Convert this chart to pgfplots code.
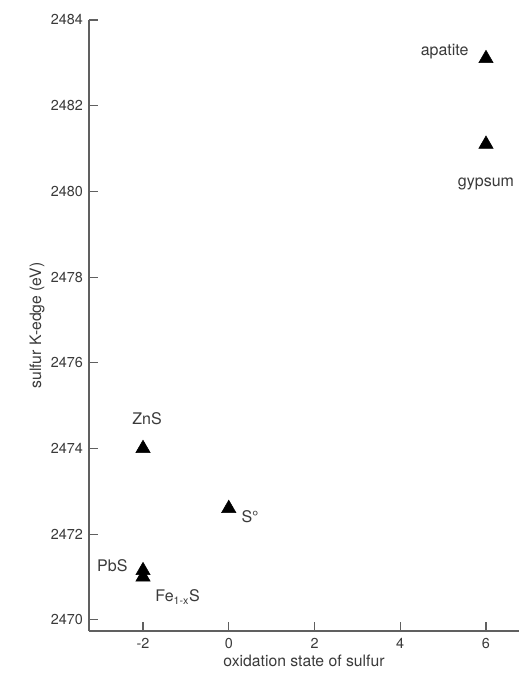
\documentclass[border=0pt]{standalone}
\usepackage{pgfplots}
\pgfplotsset{compat=1.18}
\usepackage{fontspec}
\setmainfont{TeX Gyre Heros}
\definecolor{txt}{HTML}{3A3A3A}
\definecolor{axc}{HTML}{606060}
\begin{document}
\begin{tikzpicture}
\useasboundingbox (-66.75pt,-34.5pt) rectangle (322.5pt,473.25pt);
\begin{axis}[
  scale only axis,
  width=322.5pt, height=458.25pt,
  xmin=-3.26, xmax=6.77,
  ymin=2469.74, ymax=2484,
  axis lines=left,
  axis line style={axc, line width=0.9pt, -},
  xtick={-2,0,2,4,6},
  ytick={2470,2472,2474,2476,2478,2480,2482,2484},
  tick style={axc, line width=0.8pt},
  tick align=inside,
  major tick length=7pt,
  /pgf/number format/assume math mode=true,
  /pgf/number format/1000 sep={},
  ticklabel style={font=\fontsize{10.8}{12}\selectfont, text=txt},
  xticklabel style={yshift=-2pt},
  yticklabel style={xshift=-1pt},
  xlabel={oxidation state of sulfur},
  ylabel={sulfur K-edge (eV)},
  label style={font=\fontsize{11.8}{13}\selectfont, text=txt},
  xlabel style={yshift=2pt},
  ylabel style={yshift=-2pt},
  clip=false,
]
\addplot[only marks, mark=triangle*, mark size=6.2pt, black] coordinates {
  (6,2483.1) (6,2481.1) (-2,2474.0) (0,2472.6) (-2,2471.15) (-2,2471.0)
};
\node[text=txt, font=\fontsize{12}{13}\selectfont] at (axis cs:6,2483.1) [xshift=-31pt, yshift=5pt] {apatite};
\node[text=txt, font=\fontsize{12}{13}\selectfont] at (axis cs:6,2481.1) [yshift=-30pt] {gypsum};
\node[text=txt, font=\fontsize{12}{13}\selectfont] at (axis cs:-2,2474.0) [xshift=3pt, yshift=22pt] {ZnS};
\node[text=txt, font=\fontsize{12}{13}\selectfont] at (axis cs:0,2472.6) [xshift=16pt, yshift=-6pt] {S°};
\node[text=txt, font=\fontsize{12}{13}\selectfont] at (axis cs:-2,2471.15) [xshift=-23pt, yshift=4pt] {PbS};
\node[text=txt, font=\fontsize{12}{13}\selectfont] at (axis cs:-2,2471.0) [xshift=26pt, yshift=-15pt] {Fe\textsubscript{1-x}S};
\end{axis}
\end{tikzpicture}
\end{document}
